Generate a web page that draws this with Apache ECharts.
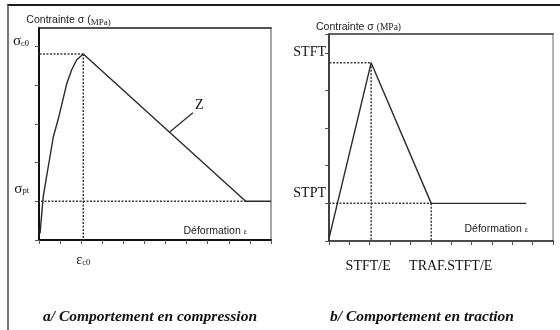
<!DOCTYPE html>
<html>
<head>
<meta charset="utf-8">
<script src="https://cdn.jsdelivr.net/npm/echarts@6/dist/echarts.min.js"></script>
<style>
  html, body { margin: 0; padding: 0; background: #fff; }
  #frame { position: absolute; left: 7px; top: 4px; width: 560px; height: 330px;
           border-top: 2px solid #1c1c1c; border-left: 2px solid #777; }
  #chart { position: absolute; left: 0; top: 0; width: 560px; height: 330px; }
</style>
</head>
<body>
<div id="frame"></div>
<div id="chart"></div>
<script>
// (a) Compression law: parabolic rise to the peak, linear softening, residual plateau
const compStrain = [0.05, 0.2, 0.44, 0.68, 0.91, 1.31, 1.55, 1.79, 2.1, 9.8, 11];
const compStress = [0.17, 1.12, 1.90, 2.67, 3.12, 4.03, 4.40, 4.66, 4.81, 1.0, 1.0];
const compPeak = [2.1, 4.81];          // (εc0, σc0)
const compResidual = [9.8, 1.0];       // end of softening, σpt
const compGuideFrom = [-1.14, -0.9];   // left ends of the peak / residual guides
const compLeaderX = [6.21, 7.3];       // pointer to the softening branch "Z"
const compLeaderY = [2.8, 3.29];
const compYLabelValues = [compPeak[1], compResidual[1]];
const compYLabelTexts = ['{s|σ}{b|c0}', '{s|σ}{b|pt}'];
const compXLabelValues = [compPeak[0]];
const compXLabelTexts = ['{e|ε}{b|c0}'];

// (b) Tension law: linear rise, linear softening, residual plateau
const tracStrain = [0, 2.07, 5.02, 9.69];
const tracStress = [0.14, 9.47, 2.0, 2.0];
const tracPeak = [2.07, 9.47];         // (STFT/E, STFT)
const tracResidual = [5.02, 2.0];      // (TRAF.STFT/E, STPT)
const tracGuideFrom = [-2.04, -1.55];
const tracYLabelValues = [tracPeak[1], tracResidual[1]];
const tracYLabelTexts = ['{t|STFT}', '{t|STPT}'];
const tracXLabelValues = [tracPeak[0], tracResidual[0]];
const tracXLabelTexts = ['{l|STFT/E}', '{r|TRAF.STFT/E}'];

const axisTicksY1 = [0, 1, 2, 3, 4, 5];

const sans = '"Liberation Sans", Arial, sans-serif';
const serif = '"Liberation Serif", "Times New Roman", serif';
const ink = '#2a2a2a';
const guideStyle = { color: '#3a3a3a', width: 1.5, type: [2, 1.5] };

const pairs = (xs, ys) => xs.map((x, i) => [x, ys[i]]);
const pick = (values, texts) => v => {
  let best = 0;
  values.forEach((val, i) => { if (Math.abs(val - v) < Math.abs(values[best] - v)) best = i; });
  return texts[best];
};

function line(data, grid, style, extra) {
  return Object.assign({
    type: 'line', data: data, xAxisIndex: grid * 2, yAxisIndex: grid * 2,
    symbol: 'none', clip: false, silent: true, animation: false,
    lineStyle: style
  }, extra || {});
}

const nameRich = {
  a: { fontFamily: sans, fontSize: 10.5, color: '#222' },
  m: { fontFamily: serif, fontSize: 9.5, color: '#222' },
  ml: { fontFamily: serif, fontSize: 9, color: '#222', padding: [5, 0, 0, 0] },
  e: { fontFamily: serif, fontSize: 8, color: '#222' }
};

function bottomAxis(grid, max, lineWidth, labelValues, labelTexts, rich, margin, nameGap, namePad) {
  return {
    type: 'value', gridIndex: grid, min: 0, max: max, interval: 1, position: 'bottom',
    splitLine: { show: false },
    axisLine: { show: true, onZero: false, lineStyle: { color: '#111', width: lineWidth } },
    axisTick: { show: true, length: 4, lineStyle: { color: '#555', width: 1 } },
    axisLabel: { show: true, customValues: labelValues, formatter: pick(labelValues, labelTexts),
                 margin: margin, rich: rich },
    name: '{a|Déformation }{e|ε}', nameLocation: 'end', nameGap: nameGap,
    nameTextStyle: { align: 'right', verticalAlign: 'bottom', padding: [0, 0, namePad, 0], rich: nameRich }
  };
}
function topAxis(grid, max, color) {
  return {
    type: 'value', gridIndex: grid, min: 0, max: max, position: 'top',
    splitLine: { show: false }, axisTick: { show: false }, axisLabel: { show: false },
    axisLine: { show: true, onZero: false, lineStyle: { color: color, width: 1.5 } }
  };
}
function leftAxis(grid, max, ticks, lineWidth, labelValues, labelTexts, rich, margin, pad, nameText, nameGap) {
  return {
    type: 'value', gridIndex: grid, min: 0, max: max, position: 'left',
    splitLine: { show: false },
    axisLine: { show: true, onZero: false, lineStyle: { color: '#111', width: lineWidth } },
    axisTick: { show: true, length: 4, customValues: ticks, lineStyle: { color: '#555', width: 1 } },
    axisLabel: { show: true, customValues: labelValues, formatter: pick(labelValues, labelTexts),
                 margin: margin, padding: pad, rich: rich },
    name: nameText, nameLocation: 'end', nameGap: nameGap,
    nameTextStyle: { align: 'center', padding: [0, 0, 0, 59], rich: nameRich }
  };
}
function rightAxis(grid, max, color) {
  return {
    type: 'value', gridIndex: grid, min: 0, max: max, position: 'right',
    splitLine: { show: false }, axisTick: { show: false }, axisLabel: { show: false },
    axisLine: { show: true, onZero: false, lineStyle: { color: color, width: 1.5 } }
  };
}

const symbolRich = {
  s: { fontFamily: serif, fontSize: 15, color: '#111', lineHeight: 14, verticalAlign: 'top' },
  e: { fontFamily: serif, fontSize: 14, color: '#111', lineHeight: 14, verticalAlign: 'top' },
  b: { fontFamily: serif, fontSize: 8.5, color: '#111', lineHeight: 8, padding: [12, 0, 0, 0], verticalAlign: 'bottom' }
};
const tracRich = {
  t: { fontFamily: serif, fontSize: 14, color: '#111' },
  l: { fontFamily: serif, fontSize: 14, color: '#111', padding: [0, 6, 0, 0] },
  r: { fontFamily: serif, fontSize: 14, color: '#111', padding: [0, 0, 0, 39] }
};
const captionStyle = { fontFamily: serif, fontStyle: 'italic', fontWeight: 'bold', fontSize: 15.5, color: '#111' };

const chart = echarts.init(document.getElementById('chart'), null, { renderer: 'canvas' });
chart.setOption({
  backgroundColor: 'transparent',
  animation: false,
  title: [
    { text: 'a/ Comportement en compression', left: 43, top: 309, padding: 0, textStyle: captionStyle },
    { text: 'b/ Comportement en traction', left: 330, top: 309, padding: 0, textStyle: captionStyle }
  ],
  grid: [
    { left: 39, top: 28, width: 232, height: 212, containLabel: false },
    { left: 329, top: 34, width: 224, height: 207, containLabel: false }
  ],
  xAxis: [
    bottomAxis(0, 11, 2, compXLabelValues, compXLabelTexts, symbolRich, 13, -24, 3),
    topAxis(0, 11, '#1a1a1a'),
    bottomAxis(1, 11, 1.6, tracXLabelValues, tracXLabelTexts, tracRich, 18, -25, 6),
    topAxis(1, 11, '#333')
  ],
  yAxis: [
    leftAxis(0, 5.48, axisTicksY1, 2, compYLabelValues, compYLabelTexts, symbolRich, 10, [0, 0, 26, 0],
             '{a|Contrainte σ (}{ml|MPa)}', 0),
    rightAxis(0, 5.48, '#888'),
    leftAxis(1, 11, null, 1.6, tracYLabelValues, tracYLabelTexts, tracRich, 3, [0, 0, 21, 0],
             '{a|Contrainte σ }{m|(MPa)}', 1),
    rightAxis(1, 11, '#999')
  ],
  series: [
    // (a) compression
    line(pairs([compGuideFrom[0], compPeak[0]], [compPeak[1], compPeak[1]]), 0, guideStyle),
    line(pairs([compPeak[0], compPeak[0]], [compPeak[1], 0]), 0, guideStyle),
    line(pairs([compGuideFrom[1], compResidual[0]], [compResidual[1], compResidual[1]]), 0, guideStyle),
    line(pairs(compStrain, compStress), 0, { color: ink, width: 1.4 }),
    line(pairs(compLeaderX, compLeaderY), 0, { color: ink, width: 1.2 }, {
      endLabel: { show: true, formatter: 'Z', fontFamily: serif, fontSize: 14, color: '#111',
                  distance: 2, offset: [0, -7] }
    }),
    // (b) traction
    line(pairs([tracGuideFrom[0], tracPeak[0]], [tracPeak[1], tracPeak[1]]), 1, guideStyle),
    line(pairs([tracPeak[0], tracPeak[0]], [tracPeak[1], 0]), 1, guideStyle),
    line(pairs([tracGuideFrom[1], tracResidual[0]], [tracResidual[1], tracResidual[1]]), 1, guideStyle),
    line(pairs([tracResidual[0], tracResidual[0]], [tracResidual[1], 0]), 1, guideStyle),
    line(pairs(tracStrain, tracStress), 1, { color: ink, width: 1.4 })
  ]
});
</script>
</body>
</html>
